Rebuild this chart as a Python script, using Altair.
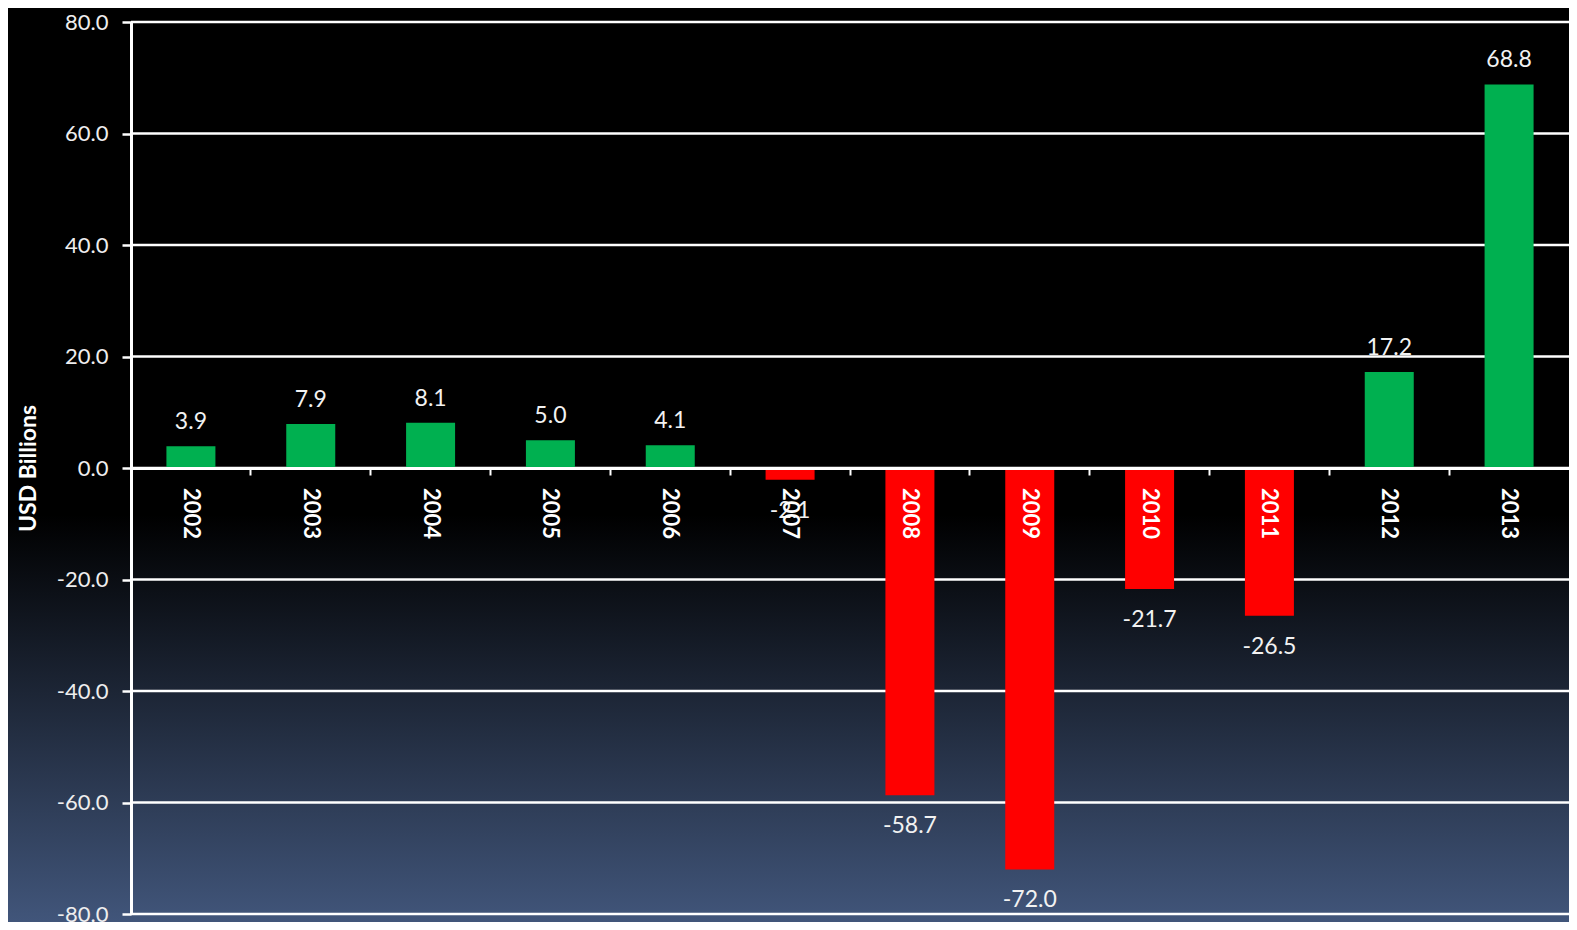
import altair as alt
import pandas as pd

years = ["2002", "2003", "2004", "2005", "2006", "2007", "2008", "2009", "2010", "2011", "2012", "2013"]
values = [3.9, 7.9, 8.1, 5.0, 4.1, -2.1, -58.7, -72.0, -21.7, -26.5, 17.2, 68.8]
y_ticks = [-80, -60, -40, -20, 0, 20, 40, 60, 80]

W, H = 1438, 892
FONT = "Lato"

df = pd.DataFrame({"year": years, "value": values})
grid_df = pd.DataFrame({"g": y_ticks})
bg_df = pd.DataFrame({"a": [0]})

LABEL_EXPR = "replace(format(datum.value, '.1f'), '\u2212', '-')"

x_enc = alt.X(
    "year:N",
    sort=years,
    scale=alt.Scale(paddingInner=0, paddingOuter=0),
    axis=alt.Axis(
        orient="bottom", offset=-H / 2, labels=False, title=None, grid=False,
        domainColor="white", domainWidth=3, tickColor="white", tickWidth=2,
        tickSize=7, bandPosition=0, zindex=1,
    ),
)
y_scale = alt.Scale(domain=[-80, 80], nice=False, zero=False)

bg = alt.Chart(bg_df).mark_rect(
    fill=alt.Gradient(
        gradient="linear",
        stops=[
            alt.GradientStop(color="#000000", offset=0),
            alt.GradientStop(color="#000000", offset=0.55),
            alt.GradientStop(color="#43587e", offset=1),
        ],
        x1=0, x2=0, y1=0, y2=1,
    )
).encode(
    x=alt.value(-130), x2=alt.value(W + 20), y=alt.value(-20), y2=alt.value(H + 20)
)

grid = alt.Chart(grid_df).mark_rule(color="white", strokeWidth=2.5).encode(
    y=alt.Y("g:Q", scale=y_scale,
            axis=alt.Axis(
                values=y_ticks, labelExpr=LABEL_EXPR, title="USD Billions",
                grid=False, domainColor="white", domainWidth=3,
                tickColor="white", tickWidth=2.5, tickSize=9,
                labelColor="#eeeeee", labelFont=FONT, labelFontSize=22,
                labelPadding=14,
                titleColor="white", titleFont=FONT, titleFontSize=23,
                titleFontWeight="bold", titleX=-103, titleY=H / 2,
                titleAngle=-90, titleAlign="center", titleBaseline="middle",
                zindex=1,
            )),
    x=alt.value(0), x2=alt.value(W + 20),
)

bars = alt.Chart(df).mark_bar(size=49).encode(
    x=x_enc,
    y=alt.Y("value:Q", scale=y_scale),
    color=alt.condition(alt.datum.value > 0, alt.value("#00B050"), alt.value("#FF0000")),
)

labelled = alt.Chart(df).transform_calculate(
    label="replace(format(datum.value, '.1f'), '\u2212', '-')"
)

pos_text = labelled.transform_filter(alt.datum.value > 0).mark_text(
    color="#f2f2f2", font=FONT, fontSize=23, baseline="middle", dy=-24
).encode(
    x=alt.X("year:N", sort=years),
    y=alt.Y("value:Q", scale=y_scale),
    text="label:N",
)

neg_text = labelled.transform_filter(alt.datum.value < 0).mark_text(
    color="#f2f2f2", font=FONT, fontSize=23, baseline="middle", dy=31
).encode(
    x=alt.X("year:N", sort=years),
    y=alt.Y("value:Q", scale=y_scale),
    text="label:N",
)

year_text = alt.Chart(df).transform_calculate(zero="0").mark_text(
    color="white", font=FONT, fontSize=22, fontWeight="bold",
    angle=90, align="left", baseline="middle", dx=20
).encode(
    x=alt.X("year:N", sort=years),
    y=alt.Y("zero:Q", scale=y_scale),
    text="year:N",
)

chart = alt.layer(bg, grid, bars, pos_text, neg_text, year_text).properties(
    width=W, height=H,
    autosize=alt.AutoSizeParams(type="none"),
    padding={"left": 123, "top": 14, "right": 0, "bottom": 8},
    background="black",
).configure_view(stroke=None)

chart.save("out.html", embed_options={"renderer": "svg", "actions": False})
